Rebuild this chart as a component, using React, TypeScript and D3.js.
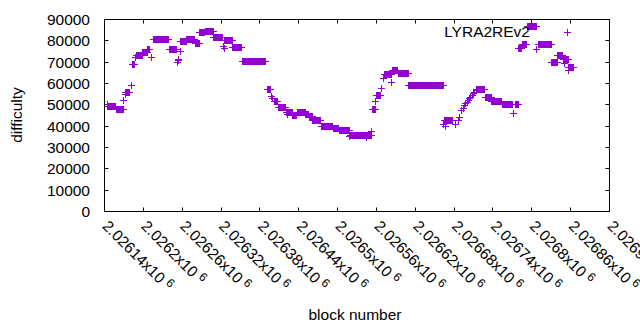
import React from 'react';
import * as d3 from 'd3';

// block numbers are stored as offsets from BASE_BLOCK
const BASE_BLOCK = 2026140;

// runs of consecutive blocks sharing one difficulty value
const runStart = [5, 18, 33, 43, 50, 59, 67, 76, 100, 118, 127, 140, 147, 156, 169, 186, 198, 213, 251, 262, 268, 281, 291, 298, 311, 316, 322, 335, 353, 363, 380, 414, 420, 432, 445, 454, 470, 525, 575, 588, 598, 614, 635, 640, 645, 653, 671, 691, 700, 709, 717];
const runEnd = [17, 29, 39, 47, 58, 66, 69, 99, 111, 126, 139, 146, 155, 168, 183, 197, 212, 249, 257, 267, 280, 290, 297, 310, 315, 321, 334, 352, 362, 379, 412, 418, 427, 443, 453, 469, 523, 538, 587, 597, 613, 630, 639, 644, 652, 667, 690, 699, 708, 716, 725];
const runValue = [49000, 48000, 56000, 68800, 73300, 74500, 76000, 80400, 75800, 79500, 80500, 78700, 83800, 84300, 81400, 80000, 77000, 70500, 57000, 51400, 48600, 46200, 44800, 46200, 45700, 44400, 42500, 39700, 38700, 37800, 35800, 47800, 54200, 64400, 66000, 64600, 59000, 42500, 57000, 53600, 51700, 50100, 50000, 76400, 78400, 86500, 78200, 69800, 73200, 71300, 67700];

// isolated blocks
const singleBlock = [4, 30, 32, 41, 48, 72, 113, 114, 115, 117, 184, 185, 258, 260, 283, 379, 404, 412, 419, 428, 431, 444, 524, 526, 542, 547, 549, 552, 554, 556, 558, 560, 562, 564, 566, 568, 570, 572, 574, 632, 668, 710, 716];
const singleValue = [50000, 52000, 55000, 59000, 72000, 72400, 70000, 70600, 71200, 75000, 77300, 76600, 54000, 52800, 45500, 35200, 34900, 37500, 51500, 57500, 62300, 60600, 40800, 40000, 40600, 42600, 44200, 47300, 48500, 49700, 50600, 51300, 52000, 52800, 53500, 54200, 55200, 56000, 56700, 46000, 75900, 69200, 66300];

const xTickValues = [2026140, 2026200, 2026260, 2026320, 2026380, 2026440, 2026500, 2026560, 2026620, 2026680, 2026740, 2026800, 2026860, 2026920];
const xTickLabels = ['2.02614', '2.0262', '2.02626', '2.02632', '2.02638', '2.02644', '2.0265', '2.02656', '2.02662', '2.02668', '2.02674', '2.0268', '2.02686', '2.02692'];
const yTickValues = [0, 10000, 20000, 30000, 40000, 50000, 60000, 70000, 80000, 90000];

const seriesName = 'LYRA2REv2';
const COLOR = '#9400d3';
const FONT = '"Liberation Sans", Arial, sans-serif';

export default function App() {
  const W = 640, H = 330;
  const L = 104.5, R = 609.5, T = 19.5, B = 211.5;
  const x = d3.scaleLinear().domain([2026140, 2026920]).range([L, R]);
  const y = d3.scaleLinear().domain([0, 90000]).range([B, T]);

  const points: [number, number][] = [];
  runStart.forEach((s, i) => {
    for (let b = s; b <= runEnd[i]; b++) points.push([BASE_BLOCK + b, runValue[i]]);
  });
  singleBlock.forEach((b, i) => points.push([BASE_BLOCK + b, singleValue[i]]));

  const plus = (px: number, py: number) => {
    const cx = Math.round(px) + 0.5, cy = Math.round(py) + 0.5;
    return `M${cx - 3.5},${cy}H${cx + 3.5}M${cx},${cy - 3.5}V${cy + 3.5}`;
  };
  const markerPath = points.map(([b, v]) => plus(x(b) - 0.5, y(v) - 0.5)).join('');

  const snap = (v: number) => Math.floor(v) + 0.5;

  return (
    <svg width={W} height={H} style={{ position: 'absolute', left: 0, top: 0, background: '#fff' }} fontFamily={FONT}>
      <rect x={0} y={0} width={W} height={H} fill="#fff" />
      {/* ticks */}
      <g stroke="#000" strokeWidth={1}>
        {yTickValues.map((v) => {
          const ty = snap(y(v));
          return (
            <g key={'yt' + v}>
              <line x1={L} x2={L + 4} y1={ty} y2={ty} />
              <line x1={R} x2={R - 4} y1={ty} y2={ty} />
            </g>
          );
        })}
        {xTickValues.map((v) => {
          const tx = snap(x(v));
          return (
            <g key={'xt' + v}>
              <line x1={tx} x2={tx} y1={B} y2={B - 4} />
              <line x1={tx} x2={tx} y1={T} y2={T + 4} />
            </g>
          );
        })}
      </g>
      {/* y tick labels */}
      <g fontSize={15.5} fill="#000" textAnchor="end">
        {yTickValues.map((v) => (
          <text key={'yl' + v} x={90} y={y(v) + 5.5}>{v}</text>
        ))}
      </g>
      {/* x tick labels */}
      <g fontSize={15.5} fill="#000">
        {xTickValues.map((v, i) => {
          const tx = x(v) - 3;
          const ty = 227;
          return (
            <text key={'xl' + v} x={tx} y={ty} transform={`rotate(45, ${tx}, ${ty})`}>
              {xTickLabels[i] + 'x10'}
              <tspan fontSize={12} dx={4} dy={-5}>6</tspan>
            </text>
          );
        })}
      </g>
      {/* axis titles */}
      <text x={21.5} y={115} fontSize={15.5} textAnchor="middle" transform="rotate(-90, 21.5, 115)">difficulty</text>
      <text x={355} y={320} fontSize={15.5} textAnchor="middle">block number</text>
      {/* data */}
      <path d={markerPath} stroke={COLOR} strokeWidth={1} fill="none" />
      {/* legend */}
      <text x={530} y={36.5} fontSize={15.5} textAnchor="end">{seriesName}</text>
      <path d={plus(566.5, 32)} stroke={COLOR} strokeWidth={1} fill="none" />
      {/* border */}
      <rect x={L} y={T} width={R - L} height={B - T} fill="none" stroke="#000" strokeWidth={1} />
    </svg>
  );
}
